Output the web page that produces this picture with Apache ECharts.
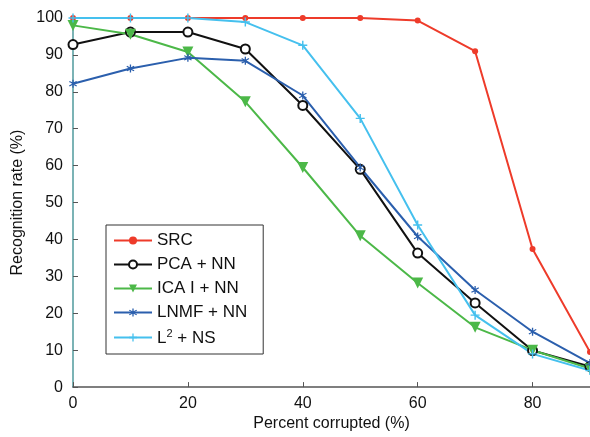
<!DOCTYPE html>
<html>
<head>
<meta charset="utf-8">
<script src="https://cdn.jsdelivr.net/npm/echarts@6/dist/echarts.min.js"></script>
<style>
  html, body { margin: 0; padding: 0; background: #fff; }
  #chart { width: 590px; height: 437px; }
</style>
</head>
<body>
<div id="chart"></div>
<script>
// percent corrupted
var xVals = [0, 10, 20, 30, 40, 50, 60, 70, 80, 90];
var xTicks = [0, 20, 40, 60, 80];
var yTicks = [0, 10, 20, 30, 40, 50, 60, 70, 80, 90, 100];

var srcRate  = [100, 100, 100, 100, 100, 100, 99.3, 91, 37.4, 9.5];
var pcaRate  = [92.8, 96.2, 96.2, 91.6, 76.3, 59, 36.3, 22.8, 9.9, 5.6];
var icaRate  = [98, 95.6, 90.8, 77.3, 59.5, 41, 28.2, 16.2, 10, 5];
var lnmfRate = [82.2, 86.3, 89.2, 88.4, 79, 59.5, 40.8, 26.3, 15, 6.5];
var l2Rate   = [100, 100, 100, 98.9, 92.6, 72.8, 43.9, 19.5, 9, 4.5];

var names = ['SRC', 'PCA + NN', 'ICA I + NN', 'LNMF + NN', 'L2 + NS'];

function pairs(ys) {
    var out = [];
    for (var i = 0; i < xVals.length; i++) {
        out.push([xVals[i], ys[i]]);
    }
    return out;
}

var plusPath = 'path://M4.2,0H5.8V4.2H10V5.8H5.8V10H4.2V5.8H0V4.2H4.2Z';
var starPath = 'path://M4.3,0H5.7V3.3L8.6,1.6L9.3,2.8L6.4,4.5L6.4,5.5L9.3,7.2L8.6,8.4L5.7,6.7V10H4.3V6.7L1.4,8.4L0.7,7.2L3.6,5.5V4.5L0.7,2.8L1.4,1.6L4.3,3.3Z';

function line(name, data, color, symbol, size, extra) {
    var s = {
        name: name,
        type: 'line',
        data: pairs(data),
        symbol: symbol,
        symbolSize: size,
        showAllSymbol: true,
        lineStyle: { color: color, width: 2 },
        itemStyle: { color: color },
        emphasis: { disabled: true },
        animation: false
    };
    if (extra) {
        for (var k in extra) s[k] = extra[k];
    }
    return s;
}

var chart = echarts.init(document.getElementById('chart'));
var font = 'Liberation Sans, Arial, sans-serif';

chart.setOption({
    backgroundColor: '#fff',
    grid: { left: 73, top: 18, right: 0, bottom: 44 },
    legend: {
        orient: 'vertical',
        left: 106,
        top: 225,
        padding: [7, 16, 7, 7],
        itemGap: 7,
        itemWidth: 38,
        itemHeight: 10,
        backgroundColor: '#fff',
        borderColor: '#333',
        borderWidth: 1,
        borderRadius: 0,
        data: names,
        formatter: function (n) {
            if (n === 'L2 + NS') return '{t|L}{sup|2}{t| + NS}';
            return '{t|' + n + '}';
        },
        textStyle: {
            color: '#111',
            fontFamily: font,
            fontSize: 17,
            rich: {
                t: { fontSize: 17, fontFamily: font, color: '#111', verticalAlign: 'bottom' },
                sup: { fontSize: 11, fontFamily: font, color: '#111', verticalAlign: 'top', padding: [0, 0, 8, 0] }
            }
        }
    },
    xAxis: {
        type: 'value',
        min: 0,
        max: 90,
        interval: 20,
        name: 'Percent corrupted (%)',
        nameLocation: 'middle',
        nameGap: 26,
        nameTextStyle: { fontFamily: font, fontSize: 16, color: '#111' },
        axisLine: { lineStyle: { color: '#555', width: 1.5 } },
        axisTick: { inside: true, length: 5, lineStyle: { color: '#555' } },
        axisLabel: {
            fontFamily: font, fontSize: 16, color: '#111', margin: 8,
            showMaxLabel: false,
            formatter: function (v) { return xTicks.indexOf(v) >= 0 ? String(v) : ''; }
        },
        splitLine: { show: false }
    },
    yAxis: {
        type: 'value',
        min: 0,
        max: 100,
        interval: 10,
        name: 'Recognition rate (%)',
        nameLocation: 'middle',
        nameGap: 42,
        nameTextStyle: { fontFamily: font, fontSize: 16, color: '#111' },
        axisLine: { lineStyle: { color: '#4f9a9c', width: 1.5 } },
        axisTick: { inside: true, length: 5, lineStyle: { color: '#555' } },
        axisLabel: {
            fontFamily: font, fontSize: 16, color: '#111', margin: 10,
            formatter: function (v) { return yTicks.indexOf(v) >= 0 ? String(v) : ''; }
        },
        splitLine: { show: false }
    },
    series: [
        line(names[0], srcRate, '#ee3b2a', 'circle', 6),
        line(names[1], pcaRate, '#111111', 'emptyCircle', 9, {
            itemStyle: { color: '#111', borderWidth: 2 }
        }),
        line(names[2], icaRate, '#4cb848', 'triangle', 11, { symbolRotate: 180 }),
        line(names[3], lnmfRate, '#2b5fad', starPath, 8),
        line(names[4], l2Rate, '#45c0ee', plusPath, 9)
    ]
});
</script>
</body>
</html>
